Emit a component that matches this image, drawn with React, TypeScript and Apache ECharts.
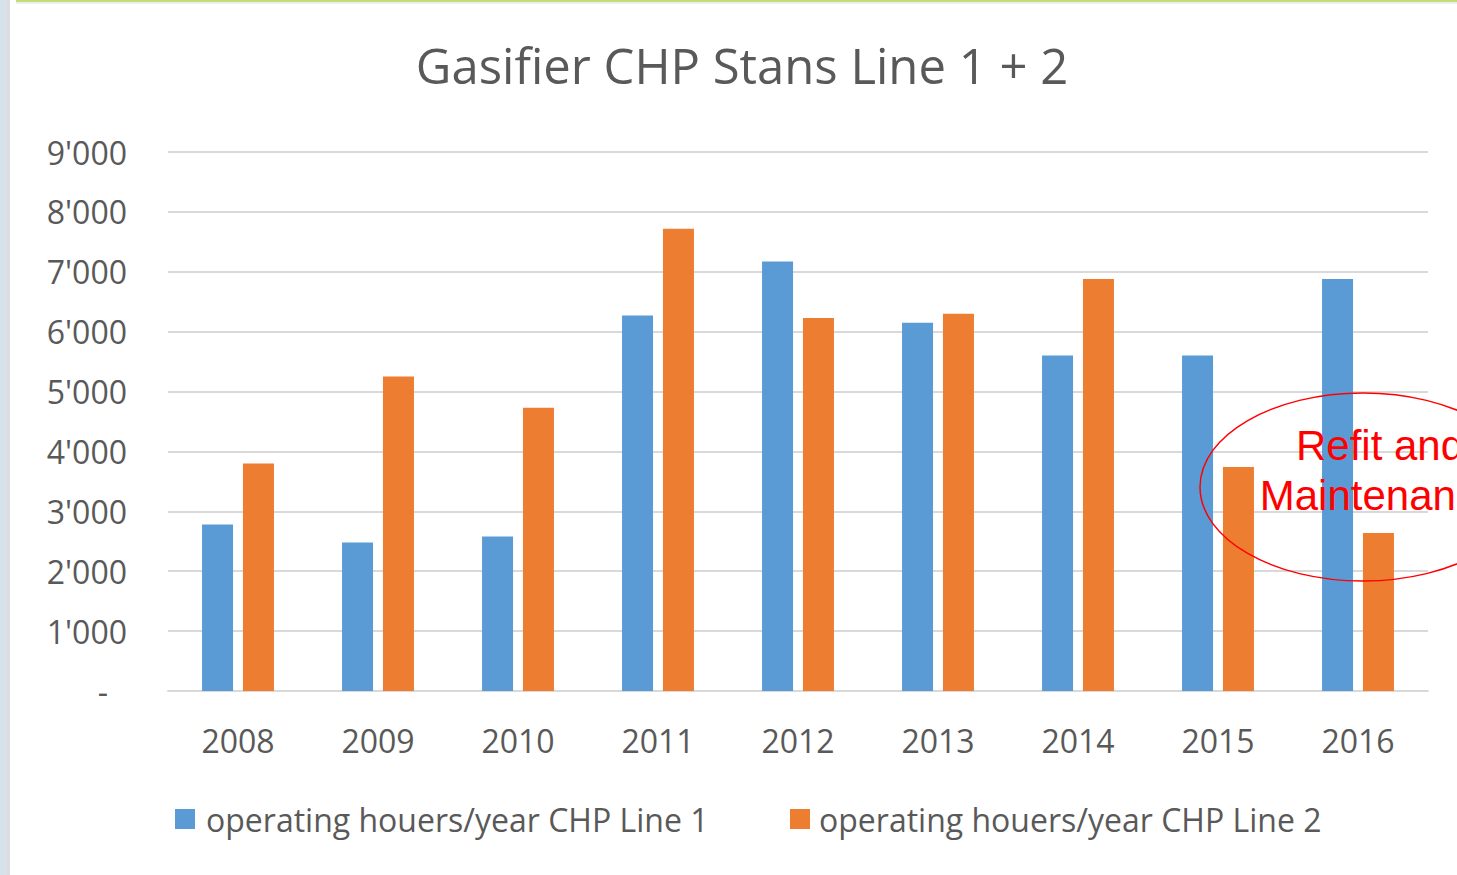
import React, { useEffect, useRef } from "react";
import * as echarts from "echarts";

const years = ["2008", "2009", "2010", "2011", "2012", "2013", "2014", "2015", "2016"];
const line1 = [2780, 2480, 2580, 6270, 7170, 6150, 5600, 5600, 6880];
const line2 = [3800, 5250, 4730, 7720, 6230, 6300, 6880, 3740, 2640];
const seriesNames = ["operating houers/year CHP Line 1", "operating houers/year CHP Line 2"];
const titleText = "Gasifier CHP Stans Line 1 + 2";
const noteLines = ["Refit and", "Maintenance"];

const FONT = "'Open Sans', 'Noto Sans', sans-serif";
const GRAY = "#595959";

function fmt(v: number): string {
  if (v === 0) return "{d|-}";
  const s = String(v);
  return s.slice(0, s.length - 3) + "'" + s.slice(s.length - 3);
}

export default function App() {
  const ref = useRef<HTMLDivElement>(null);
  useEffect(() => {
    if (!ref.current) return;
    const chart = echarts.init(ref.current, undefined, { renderer: "svg" });
    chart.setOption({
      animation: false,
      backgroundColor: "#ffffff",
      title: {
        text: titleText,
        left: 737,
        top: 35,
        textAlign: "center",
        textStyle: { fontFamily: FONT, fontSize: 49, fontWeight: "normal", color: GRAY },
      },
      grid: { left: 168, right: 29, top: 152, bottom: 184, containLabel: false },
      legend: [
        {
          data: [seriesNames[0]],
          left: 175,
          top: 803,
          padding: 0,
          icon: "rect",
          itemWidth: 20,
          itemHeight: 20,
          itemGap: 10,
          textStyle: { fontFamily: FONT, fontSize: 32, color: GRAY, padding: [0, 0, 0, 6] },
        },
        {
          data: [seriesNames[1]],
          left: 790,
          top: 803,
          padding: 0,
          icon: "rect",
          itemWidth: 20,
          itemHeight: 20,
          itemGap: 10,
          textStyle: { fontFamily: FONT, fontSize: 32, color: GRAY, padding: [0, 0, 0, 4] },
        },
      ],
      xAxis: {
        type: "category",
        data: years,
        axisLine: { lineStyle: { color: "#d9d9d9", width: 2 } },
        axisTick: { show: false },
        axisLabel: { fontFamily: FONT, fontSize: 32, color: GRAY, margin: 33 },
      },
      yAxis: {
        type: "value",
        min: 0,
        max: 9000,
        interval: 1000,
        axisLine: { show: false },
        axisTick: { show: false },
        splitLine: { lineStyle: { color: "#d9d9d9", width: 2 } },
        axisLabel: {
          fontFamily: FONT,
          fontSize: 32,
          color: GRAY,
          margin: 41,
          formatter: (v: number) => fmt(v),
          rich: { d: { fontFamily: FONT, fontSize: 32, color: GRAY, padding: [0, 19, 0, 0] } },
        },
      },
      series: [
        {
          name: seriesNames[0],
          type: "bar",
          data: line1,
          barWidth: 31,
          barGap: "32%",
          itemStyle: { color: "#5b9bd5" },
        },
        {
          name: seriesNames[1],
          type: "bar",
          data: line2,
          barWidth: 31,
          itemStyle: { color: "#ed7d31" },
        },
      ],
      graphic: [
        { type: "rect", shape: { x: 0, y: 0, width: 7, height: 875 }, style: { fill: "#d6e3ea" }, z: 100 },
        { type: "rect", shape: { x: 7, y: 0, width: 3, height: 875 }, style: { fill: "#dcdcdc" }, z: 100 },
        { type: "rect", shape: { x: 16, y: 0, width: 1441, height: 2 }, style: { fill: "#c3dc7a" }, z: 100 },
        { type: "rect", shape: { x: 16, y: 2, width: 1441, height: 2 }, style: { fill: "#eeeeee" }, z: 100 },
        {
          type: "ellipse",
          shape: { cx: 1363, cy: 487, rx: 163, ry: 94 },
          style: { fill: "none", stroke: "#ff0000", lineWidth: 1.5 },
          z: 100,
        },
        {
          type: "text",
          x: 1380,
          y: 445,
          style: {
            text: noteLines[0],
            fill: "#ff0000",
            font: "42px 'Liberation Sans', Arial, sans-serif",
            textAlign: "center",
            textVerticalAlign: "middle",
          },
          z: 101,
        },
        {
          type: "text",
          x: 1380,
          y: 495,
          style: {
            text: noteLines[1],
            fill: "#ff0000",
            font: "42px 'Liberation Sans', Arial, sans-serif",
            textAlign: "center",
            textVerticalAlign: "middle",
          },
          z: 101,
        },
      ],
    });
    return () => chart.dispose();
  }, []);
  return (
    <div
      ref={ref}
      style={{ position: "fixed", left: 0, top: 0, width: 1457, height: 875, background: "#fff" }}
    />
  );
}
